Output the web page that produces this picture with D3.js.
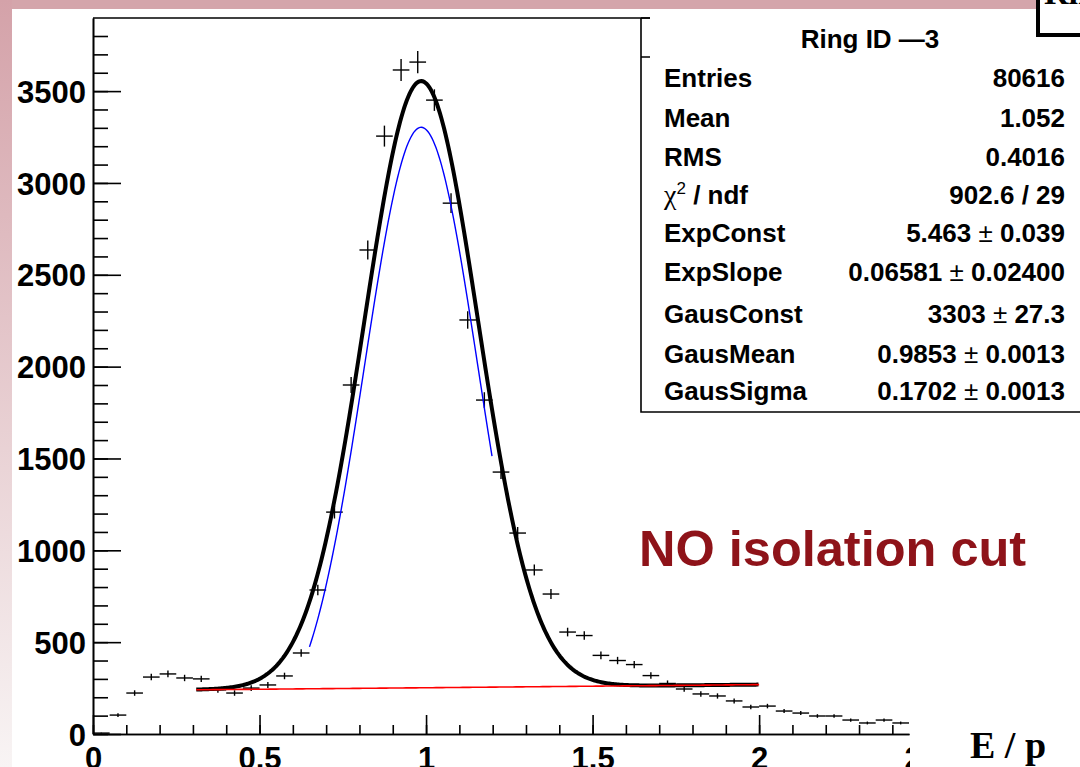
<!DOCTYPE html>
<html>
<head>
<meta charset="utf-8">
<script src="https://cdn.jsdelivr.net/npm/d3@7"></script>
<style>
  html, body { margin: 0; padding: 0; background: #fff; }
  svg { display: block; }
  text { font-family: "Liberation Sans", Arial, Helvetica, sans-serif; }
</style>
</head>
<body>
<svg id="chart" width="1080" height="767"></svg>
<script>
// histogram bins (E/p), width 0.05
const binCenters = [0.025, 0.075, 0.125, 0.175, 0.225, 0.275, 0.325, 0.375, 0.425, 0.475,
  0.525, 0.575, 0.625, 0.675, 0.725, 0.775, 0.825, 0.875, 0.925, 0.975,
  1.025, 1.075, 1.125, 1.175, 1.225, 1.275, 1.325, 1.375, 1.425, 1.475,
  1.525, 1.575, 1.625, 1.675, 1.725, 1.775, 1.825, 1.875, 1.925, 1.975,
  2.025, 2.075, 2.125, 2.175, 2.225, 2.275, 2.325, 2.375, 2.425]
const binCounts = [5, 103, 223, 310, 327, 305, 300, 240, 223, 250,
  267, 316, 441, 784, 1208, 1900, 2635, 3255, 3615, 3658,
  3451, 2890, 2254, 1818, 1426, 1094, 893, 762, 555, 536,
  428, 400, 378, 318, 275, 245, 218, 207, 180, 147,
  152, 125, 114, 98, 98, 76, 60, 76, 60]
const binHalfWidth = 0.025

// fit results (from the stats box)
const fitNames = ['ExpConst', 'ExpSlope', 'GausConst', 'GausMean', 'GausSigma']
const fitValues = [5.463, 0.06581, 3303, 0.9853, 0.1702]
const fitErrors = ['0.039', '0.02400', '27.3', '0.0013', '0.0013']
const fitValueText = ['5.463', '0.06581', '3303', '0.9853', '0.1702']
const totalRange = [0.31, 2.0]
const gausRange = [0.65, 1.197]

const statNames = ['Entries', 'Mean', 'RMS']
const statValues = ['80616', '1.052', '0.4016']
const chi2Text = '902.6 / 29'

const xTicksMajor = [0, 0.5, 1, 1.5, 2, 2.5]
const xTicksMinor = d3.range(0, 2.41, 0.1)
const yTicksMajor = [0, 500, 1000, 1500, 2000, 2500, 3000, 3500]
const yTicksMinor = d3.range(0, 3801, 100)

const svg = d3.select('#chart')

// slide background
const defs = svg.append('defs')
const grad = defs.append('linearGradient').attr('id', 'side')
  .attr('x1', 0).attr('y1', 0).attr('x2', 0).attr('y2', 1)
grad.append('stop').attr('offset', 0).attr('stop-color', '#d4a2a9')
grad.append('stop').attr('offset', 1).attr('stop-color', '#f8f4f4')
defs.append('clipPath').attr('id', 'plotclip')
  .append('rect').attr('x', 0).attr('y', 0).attr('width', 910).attr('height', 767)

svg.append('rect').attr('x', 0).attr('y', 0).attr('width', 1080).attr('height', 767).attr('fill', '#fff')
svg.append('rect').attr('x', 0).attr('y', 0).attr('width', 1080).attr('height', 9).attr('fill', '#d4a5ab')
svg.append('rect').attr('x', 0).attr('y', 0).attr('width', 12).attr('height', 767).attr('fill', 'url(#side)')

const x = d3.scaleLinear().domain([0, 2.45]).range([93, 909])
const y = d3.scaleLinear().domain([0, 3898]).range([734, 18])

// axes
const tickFont = '31px'
const xAxisG = svg.append('g').attr('clip-path', 'url(#plotclip)')
xAxisG.append('g').attr('transform', 'translate(0,734)')
  .call(d3.axisBottom(x).tickValues(xTicksMinor).tickSize(-9).tickSizeOuter(0).tickFormat(''))
xAxisG.append('g').attr('class', 'xmajor').attr('transform', 'translate(0,734)')
  .call(d3.axisBottom(x).tickValues(xTicksMajor).tickSize(-19).tickSizeOuter(0).tickPadding(13)
    .tickFormat(d => String(d)))
svg.append('g').attr('transform', 'translate(93,0)')
  .call(d3.axisLeft(y).tickValues(yTicksMinor).tickSize(-15).tickSizeOuter(0).tickFormat(''))
svg.append('g').attr('class', 'ymajor').attr('transform', 'translate(93,0)')
  .call(d3.axisLeft(y).tickValues(yTicksMajor).tickSize(-28).tickSizeOuter(0).tickPadding(7)
    .tickFormat(d => String(d)))

svg.selectAll('.domain').attr('stroke', '#000').attr('stroke-width', 1.6)
svg.selectAll('.tick line').attr('stroke', '#000').attr('stroke-width', 1.6)
svg.selectAll('.tick text').attr('fill', '#000').style('font-size', tickFont)
  .style('font-weight', 'bold').style('font-family', '"Liberation Sans", Arial, sans-serif')
svg.selectAll('.xmajor .tick text').attr('dy', '0.71em')
svg.selectAll('.xmajor .tick').filter(d => d > 2.45).select('line').remove()
svg.selectAll('.ymajor .tick text').attr('dy', '0.36em')

// frame top
svg.append('line').attr('x1', 93).attr('x2', 650).attr('y1', 18).attr('y2', 18)
  .attr('stroke', '#000').attr('stroke-width', 1.6)

// data points with error bars
const pts = svg.append('g').attr('stroke', '#000').attr('stroke-width', 1.4)
binCenters.forEach((c, i) => {
  const n = binCounts[i]
  const e = Math.sqrt(n)
  pts.append('line').attr('x1', x(c - binHalfWidth)).attr('x2', x(c + binHalfWidth))
    .attr('y1', y(n)).attr('y2', y(n))
  pts.append('line').attr('x1', x(c)).attr('x2', x(c))
    .attr('y1', y(Math.max(0, n - e))).attr('y2', y(n + e))
})

// fit functions
const [eC, eS, gC, gM, gS] = fitValues
const expF = v => Math.exp(eC + eS * v)
const gausF = v => gC * Math.exp(-0.5 * Math.pow((v - gM) / gS, 2))
const totF = v => expF(v) + gausF(v)
const sample = (r, step) => d3.range(r[0], r[1] + step / 2, step)
const line = f => d3.line().x(d => x(d)).y(d => y(f(d))).curve(d3.curveLinear)

svg.append('path').datum(sample(gausRange, 0.004)).attr('d', line(gausF))
  .attr('fill', 'none').attr('stroke', '#0000ff').attr('stroke-width', 1.4)
svg.append('path').datum(sample(totalRange, 0.004)).attr('d', line(totF))
  .attr('fill', 'none').attr('stroke', '#000').attr('stroke-width', 4)
svg.append('path').datum(sample(totalRange, 0.01)).attr('d', line(expF))
  .attr('fill', 'none').attr('stroke', '#ff0000').attr('stroke-width', 1.6)

// stats box
svg.append('rect').attr('x', 641).attr('y', 19).attr('width', 460).attr('height', 393)
  .attr('fill', '#fff').attr('stroke', 'none')
svg.append('path').attr('d', 'M641,18 V412 H1080 M641,18 H650 M641,57 H650')
  .attr('fill', 'none').attr('stroke', '#000').attr('stroke-width', 1.6)

const st = svg.append('g').style('font-weight', 'bold').style('font-size', '26px').attr('fill', '#000')
st.append('text').attr('x', 870).attr('y', 48).attr('text-anchor', 'middle').text('Ring ID —3')

const rowY = [87, 127, 166, 204, 242, 281, 323, 363, 400]
statNames.forEach((n, i) => {
  st.append('text').attr('x', 664).attr('y', rowY[i]).text(n)
  st.append('text').attr('x', 1065).attr('y', rowY[i]).attr('text-anchor', 'end').text(statValues[i])
})
const chi = st.append('text').attr('x', 664).attr('y', rowY[3])
chi.append('tspan').style('font-family', '"Liberation Serif", serif').style('font-weight', 'normal')
  .style('font-size', '28px').text('χ')
chi.append('tspan').attr('dy', -10).style('font-size', '17px').style('font-weight', 'normal').text('2')
chi.append('tspan').attr('dy', 10).text(' / ndf')
st.append('text').attr('x', 1065).attr('y', rowY[3]).attr('text-anchor', 'end').text(chi2Text)

fitNames.forEach((n, i) => {
  const yy = rowY[4 + i]
  st.append('text').attr('x', 664).attr('y', yy).text(n)
  const t = st.append('text').attr('x', 1065).attr('y', yy).attr('text-anchor', 'end')
  t.append('tspan').text(fitValueText[i] + ' ')
  t.append('tspan').style('font-weight', 'normal').text('±')
  t.append('tspan').text(' ' + fitErrors[i])
})

// title box peeking in at top-right
svg.append('rect').attr('x', 1038).attr('y', -20).attr('width', 80).attr('height', 55)
  .attr('fill', '#fff').attr('stroke', '#000').attr('stroke-width', 4)
svg.append('text').attr('x', 1044).attr('y', 4).style('font-family', '"Liberation Serif", serif')
  .style('font-weight', 'bold').style('font-size', '34px').text('Ring')

// annotation and axis title
svg.append('text').attr('x', 639).attr('y', 566).attr('fill', '#8e1319')
  .style('font-weight', 'bold').style('font-size', '50.5px').text('NO isolation cut')
svg.append('text').attr('x', 970).attr('y', 758)
  .style('font-family', '"Liberation Serif", "Times New Roman", serif')
  .style('font-weight', 'bold').style('font-size', '38px').text('E / p')
</script>
</body>
</html>
